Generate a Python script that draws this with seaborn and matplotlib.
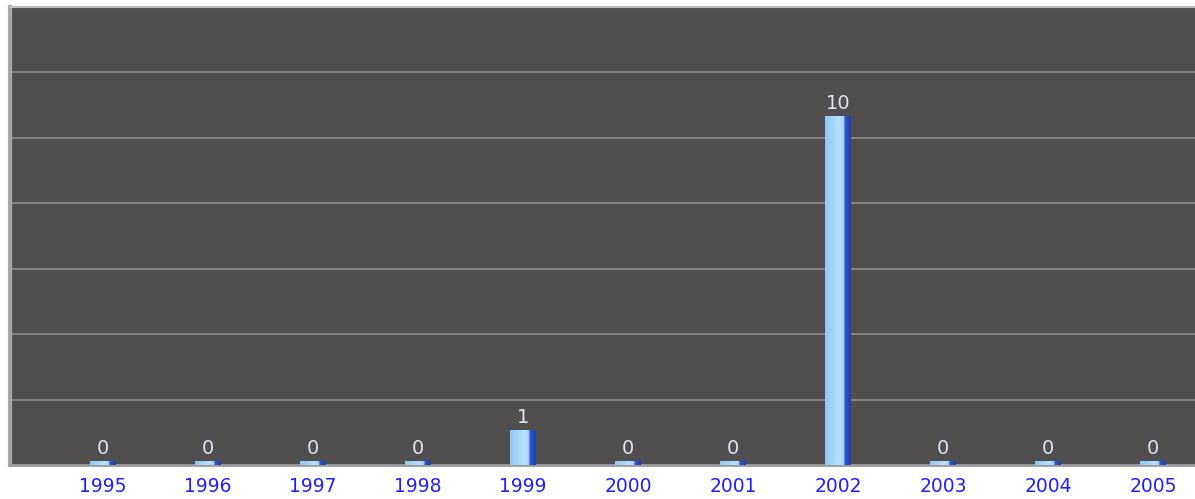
import numpy as np
import pandas as pd
import matplotlib
matplotlib.use("Agg")
import matplotlib.pyplot as plt
import seaborn as sns
from matplotlib.colors import LinearSegmentedColormap

years = ["1995", "1996", "1997", "1998", "1999", "2000", "2001", "2002", "2003", "2004", "2005"]
counts = [0, 0, 0, 0, 1, 0, 0, 10, 0, 0, 0]

df = pd.DataFrame({"year": years, "count": counts})

sns.set_theme(style="dark")
plt.rcParams['font.family'] = ['DejaVu Sans']

fig = plt.figure(figsize=(11.95, 4.99), dpi=100)
fig.patch.set_facecolor("white")
ax = fig.add_axes([10 / 1195, 34 / 499, 1 - 10 / 1195, 458 / 499])
ax.set_facecolor("#504e4e")

sns.barplot(data=df, x="year", y="count", ax=ax, color="#9fd0f5",
            width=0.24, saturation=1, errorbar=None, zorder=3)

ymax = 13.125
ax.set_ylim(0, ymax)
ax.set_xlim(-0.886, 10.4)

# gridlines
ax.set_yticks(np.arange(0, ymax + 0.01, ymax / 7))
ax.yaxis.grid(True, color="#8e8c8c", linewidth=1.2, zorder=0)
ax.xaxis.grid(False)
ax.tick_params(axis="y", left=False, labelleft=False)
ax.tick_params(axis="x", bottom=False, pad=3, labelsize=13.5, labelcolor="#2020ff")
ax.set_xlabel("")
ax.set_ylabel("")

# gradient fill for bars
cmap = LinearSegmentedColormap.from_list("bar", [(0, "#8ccaf4"), (0.55, "#b9e0fb"), (0.72, "#a8d4f6"), (0.78, "#2a55cc"), (1, "#1e40b0")])
grad = np.linspace(0, 1, 64).reshape(1, -1)
for p, v in zip(ax.patches, counts):
    h = max(p.get_height(), 0.09)
    p.set_height(h)
    x0 = p.get_x()
    w = p.get_width()
    p.set_visible(False)
    ax.imshow(grad, extent=[x0, x0 + w, 0, h], aspect="auto", cmap=cmap, zorder=3,
              interpolation="bilinear")
    ax.text(x0 + w / 2, h + 0.1, str(v), ha="center", va="bottom",
            color="#e2e2f2", fontsize=14, zorder=4)

ax.set_xlim(-0.886, 10.4)
ax.set_ylim(0, ymax)

for s in ["right"]:
    ax.spines[s].set_visible(False)
ax.spines["left"].set_color("#a8a8a8")
ax.spines["left"].set_linewidth(3)
ax.spines["top"].set_color("#bdbdbd")
ax.spines["top"].set_linewidth(1.5)
ax.spines["bottom"].set_color("#9a9a9a")
ax.spines["bottom"].set_linewidth(2)

fig.savefig("out.png", dpi=100)
